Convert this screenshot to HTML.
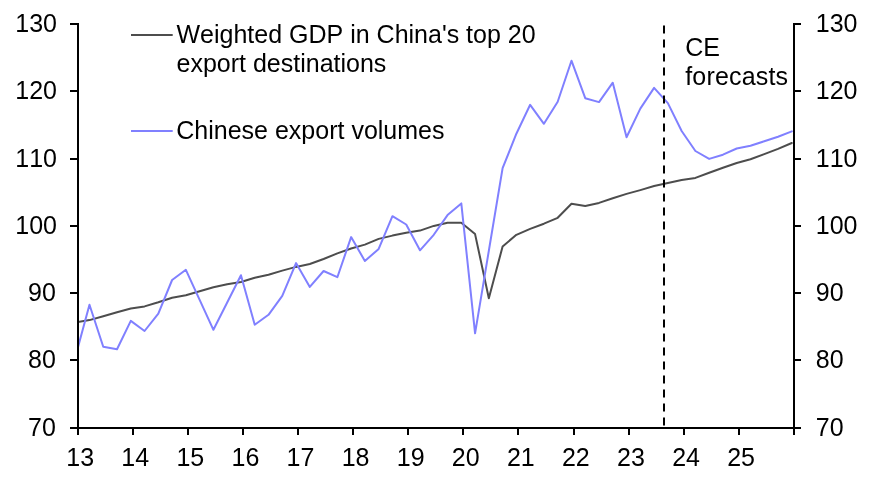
<!DOCTYPE html>
<html><head><meta charset="utf-8"><title>Chart</title>
<style>
html,body{margin:0;padding:0;background:#fff;}
body{width:871px;height:484px;overflow:hidden;}
svg{display:block;}
text{font-family:"Liberation Sans",Arial,sans-serif;font-size:25px;fill:#000;font-kerning:none;}
</style></head><body>
<svg width="871" height="484" viewBox="0 0 871 484">
<rect width="871" height="484" fill="#fff"/>
<defs><clipPath id="plot"><rect x="78.0" y="24.0" width="716.0" height="404.0"/></clipPath></defs>

<g clip-path="url(#plot)" fill="none" stroke-linejoin="round" stroke-linecap="round">
<polyline points="75.70,322.38 89.48,320.10 103.25,316.30 117.02,312.20 130.79,308.50 144.56,306.40 158.33,302.30 172.10,297.70 185.87,295.20 199.65,291.20 213.42,287.20 227.19,284.30 240.96,282.00 254.73,277.80 268.50,274.70 282.27,270.60 296.04,266.90 309.81,264.00 323.59,259.00 337.36,253.40 351.13,248.50 364.90,244.60 378.67,238.90 392.44,235.60 406.21,232.70 419.98,230.60 433.75,225.90 447.53,222.80 461.30,222.80 475.07,234.10 488.84,298.20 502.61,246.50 516.38,234.80 530.15,228.90 543.92,223.70 557.70,217.80 571.47,203.70 585.24,206.00 599.01,202.90 612.78,198.20 626.55,193.90 640.32,190.10 654.09,186.00 667.86,183.00 681.64,179.90 695.41,177.90 709.18,172.70 722.95,167.70 736.72,163.00 750.49,159.30 764.26,154.10 778.03,148.90 791.80,143.00" stroke="#4d4d4d" stroke-width="2"/>
<polyline points="75.70,355.56 89.48,304.80 103.25,346.70 117.02,349.20 130.79,320.90 144.56,331.00 158.33,313.60 172.10,280.00 185.87,269.80 199.65,299.80 213.42,329.80 227.19,302.50 240.96,275.20 254.73,324.70 268.50,314.80 282.27,295.80 296.04,263.10 309.81,286.90 323.59,271.00 337.36,277.20 351.13,237.10 364.90,261.00 378.67,248.90 392.44,216.20 406.21,224.50 419.98,250.30 433.75,234.80 447.53,215.10 461.30,203.40 475.07,333.30 488.84,250.75 502.61,168.20 516.38,133.70 530.15,104.80 543.92,123.80 557.70,101.70 571.47,60.70 585.24,98.20 599.01,102.10 612.78,82.70 626.55,137.20 640.32,108.60 654.09,87.90 667.86,103.10 681.64,131.00 695.41,151.00 709.18,158.90 722.95,154.70 736.72,148.50 750.49,145.80 764.26,141.30 778.03,136.70 791.80,131.40" stroke="#8080ff" stroke-width="2"/>
</g>
<line x1="664" y1="25.4" x2="664" y2="427.0" stroke="#000" stroke-width="2" stroke-dasharray="8.2 5.8"/>
<g stroke="#000" stroke-width="2" fill="none">
<line x1="78.0" y1="23.0" x2="78.0" y2="429.0"/>
<line x1="794.0" y1="23.0" x2="794.0" y2="429.0"/>
<line x1="70" y1="428.0" x2="801" y2="428.0"/>
<line x1="70" y1="360" x2="78.0" y2="360"/>
<line x1="794.0" y1="360" x2="801" y2="360"/>
<line x1="70" y1="293" x2="78.0" y2="293"/>
<line x1="794.0" y1="293" x2="801" y2="293"/>
<line x1="70" y1="226" x2="78.0" y2="226"/>
<line x1="794.0" y1="226" x2="801" y2="226"/>
<line x1="70" y1="159" x2="78.0" y2="159"/>
<line x1="794.0" y1="159" x2="801" y2="159"/>
<line x1="70" y1="91" x2="78.0" y2="91"/>
<line x1="794.0" y1="91" x2="801" y2="91"/>
<line x1="70" y1="24" x2="78.0" y2="24"/>
<line x1="794.0" y1="24" x2="801" y2="24"/>
<line x1="78" y1="428.0" x2="78" y2="435"/>
<line x1="133" y1="428.0" x2="133" y2="435"/>
<line x1="188" y1="428.0" x2="188" y2="435"/>
<line x1="243" y1="428.0" x2="243" y2="435"/>
<line x1="298" y1="428.0" x2="298" y2="435"/>
<line x1="353" y1="428.0" x2="353" y2="435"/>
<line x1="408" y1="428.0" x2="408" y2="435"/>
<line x1="463" y1="428.0" x2="463" y2="435"/>
<line x1="518" y1="428.0" x2="518" y2="435"/>
<line x1="574" y1="428.0" x2="574" y2="435"/>
<line x1="629" y1="428.0" x2="629" y2="435"/>
<line x1="684" y1="428.0" x2="684" y2="435"/>
<line x1="739" y1="428.0" x2="739" y2="435"/>
<line x1="794" y1="428.0" x2="794" y2="435"/>
</g>
<text x="55.9" y="436.10" text-anchor="end">70</text>
<text x="815.8" y="436.10">70</text>
<text x="55.9" y="368.10" text-anchor="end">80</text>
<text x="815.8" y="368.10">80</text>
<text x="55.9" y="301.10" text-anchor="end">90</text>
<text x="815.8" y="301.10">90</text>
<text x="57" y="234.10" text-anchor="end">100</text>
<text x="815.8" y="234.10">100</text>
<text x="57" y="167.10" text-anchor="end">110</text>
<text x="815.8" y="167.10">110</text>
<text x="57" y="99.10" text-anchor="end">120</text>
<text x="815.8" y="99.10">120</text>
<text x="57" y="32.10" text-anchor="end">130</text>
<text x="815.8" y="32.10">130</text>
<text x="80.20" y="465.7" text-anchor="middle">13</text>
<text x="135.28" y="465.7" text-anchor="middle">14</text>
<text x="190.35" y="465.7" text-anchor="middle">15</text>
<text x="245.43" y="465.7" text-anchor="middle">16</text>
<text x="300.51" y="465.7" text-anchor="middle">17</text>
<text x="355.58" y="465.7" text-anchor="middle">18</text>
<text x="410.66" y="465.7" text-anchor="middle">19</text>
<text x="465.74" y="465.7" text-anchor="middle">20</text>
<text x="520.82" y="465.7" text-anchor="middle">21</text>
<text x="575.89" y="465.7" text-anchor="middle">22</text>
<text x="630.97" y="465.7" text-anchor="middle">23</text>
<text x="686.05" y="465.7" text-anchor="middle">24</text>
<text x="741.12" y="465.7" text-anchor="middle">25</text>
<line x1="131" y1="35" x2="172.7" y2="35" stroke="#4d4d4d" stroke-width="2"/>
<text x="176.5" y="42.5">Weighted GDP in China's top 20</text>
<text x="176.5" y="71.8">export destinations</text>
<line x1="131" y1="131" x2="172.7" y2="131" stroke="#8080ff" stroke-width="2"/>
<text x="176.3" y="139.2">Chinese export volumes</text>
<text x="685.2" y="56">CE</text>
<text x="685.2" y="85" textLength="102.8">forecasts</text>
</svg></body></html>
